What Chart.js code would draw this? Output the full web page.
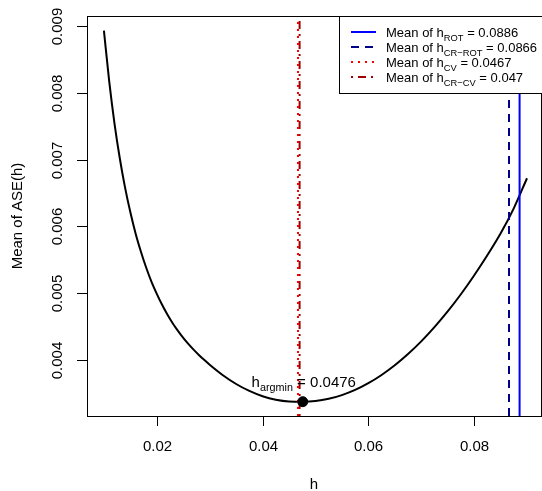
<!DOCTYPE html>
<html>
<head>
<meta charset="utf-8">
<script src="https://cdn.jsdelivr.net/npm/chart.js@4.4.0/dist/chart.umd.min.js"></script>
<style>
    html, body { margin: 0; padding: 0; overflow: hidden; background: #fff; }
    canvas { display: block; }
</style>
</head>
<body>
<canvas id="aseChart" width="542" height="491"></canvas>
<script>
// bandwidth grid and mean ASE
var hValues = [0.010, 0.011, 0.012, 0.013, 0.014, 0.015, 0.016, 0.017, 0.018, 0.019,
    0.020, 0.021, 0.022, 0.023, 0.024, 0.025, 0.026, 0.027, 0.028, 0.029,
    0.030, 0.0325, 0.035, 0.0375, 0.040, 0.0425, 0.045, 0.0476, 0.050, 0.0525,
    0.055, 0.0575, 0.060, 0.0625, 0.065, 0.0675, 0.070, 0.0725, 0.075, 0.0775,
    0.080, 0.0825, 0.085, 0.0875, 0.090];
var aseValues = [0.00893, 0.00817, 0.00754, 0.00702, 0.00658, 0.00621, 0.00589, 0.00562, 0.00538, 0.00517,
    0.00499, 0.004826, 0.00468, 0.00455, 0.004435, 0.00433, 0.004236, 0.00415, 0.004071, 0.003997,
    0.003927, 0.00377, 0.003639, 0.003535, 0.003456, 0.003404, 0.003378, 0.003374, 0.003384, 0.003417,
    0.003473, 0.00355, 0.003651, 0.003774, 0.003919, 0.004087, 0.004277, 0.00449, 0.004725, 0.004983,
    0.005264, 0.005566, 0.005892, 0.00627, 0.00672];

var hArgmin = 0.0476;
var aseMin = 0.003374;

// mean bandwidths of the selectors
var selectorNames = ['ROT', 'CR\u2212ROT', 'CV', 'CR\u2212CV'];
var selectorMeans = [0.0886, 0.0866, 0.0467, 0.047];
var selectorLabels = ['0.0886', '0.0866', '0.0467', '0.047'];
var selectorColors = ['#0000ff', '#00008b', '#ff0000', '#a00000'];
var selectorDashes = [[], [8, 6], [2, 5], [2, 5, 8, 5]];

var xTicks = [0.02, 0.04, 0.06, 0.08];
var yTicks = [0.004, 0.005, 0.006, 0.007, 0.008, 0.009];

var xMin = 0.0068, xMax = 0.09265;
var yMin = 0.00316, yMax = 0.00915;

var FONT = '"Liberation Sans", Arial, sans-serif';

function drawSubText(ctx, parts, x, y, size, align) {
    // parts: [text, isSub]
    var subSize = size * 0.72;
    var total = 0;
    parts.forEach(function (p) {
        ctx.font = (p[1] ? subSize : size) + 'px ' + FONT;
        total += ctx.measureText(p[0]).width;
    });
    var cx = align === 'center' ? x - total / 2 : x;
    ctx.textAlign = 'left';
    ctx.textBaseline = 'alphabetic';
    parts.forEach(function (p) {
        ctx.font = (p[1] ? subSize : size) + 'px ' + FONT;
        ctx.fillText(p[0], cx, p[1] ? y + size * 0.3 : y);
        cx += ctx.measureText(p[0]).width;
    });
}

var axesPlugin = {
    id: 'rAxes',
    afterDraw: function (chart) {
        var ctx = chart.ctx;
        var area = chart.chartArea;
        var xs = chart.scales.x, ys = chart.scales.y;
        ctx.save();
        ctx.strokeStyle = '#000';
        ctx.fillStyle = '#000';
        ctx.lineWidth = 1;
        ctx.strokeRect(Math.round(area.left) + 0.5, Math.round(area.top) + 0.5,
            Math.round(area.right - area.left), Math.round(area.bottom - area.top));

        // x axis
        ctx.font = '15px ' + FONT;
        ctx.textAlign = 'center';
        ctx.textBaseline = 'middle';
        xTicks.forEach(function (t) {
            var px = Math.round(xs.getPixelForValue(t)) + 0.5;
            ctx.beginPath();
            ctx.moveTo(px, area.bottom);
            ctx.lineTo(px, area.bottom + 10);
            ctx.stroke();
            ctx.fillText(String(t), px, area.bottom + 31);
        });
        ctx.fillText('h', (area.left + area.right) / 2, area.bottom + 69);

        // y axis
        yTicks.forEach(function (t) {
            var py = Math.round(ys.getPixelForValue(t)) + 0.5;
            ctx.beginPath();
            ctx.moveTo(area.left - 10, py);
            ctx.lineTo(area.left, py);
            ctx.stroke();
            ctx.save();
            ctx.translate(area.left - 29, py);
            ctx.rotate(-Math.PI / 2);
            ctx.fillText(String(t), 0, 0);
            ctx.restore();
        });
        ctx.save();
        ctx.translate(18, (area.top + area.bottom) / 2);
        ctx.rotate(-Math.PI / 2);
        ctx.fillText('Mean of ASE(h)', 0, 0);
        ctx.restore();

        // argmin label
        var mx = xs.getPixelForValue(hArgmin);
        var my = ys.getPixelForValue(aseMin);
        drawSubText(ctx, [['h', false], ['argmin', true], [' = 0.0476', false]], mx + 1, my - 15, 15, 'center');

        // legend
        var lx = 339, ly = area.top;
        ctx.fillStyle = '#fff';
        ctx.fillRect(lx, ly, area.right - lx + 2, 77);
        ctx.strokeStyle = '#000';
        ctx.strokeRect(lx + 0.5, ly + 0.5, area.right - lx + 2, 77);
        selectorNames.forEach(function (name, i) {
            var rowY = ly + 16 + i * 15;
            ctx.strokeStyle = selectorColors[i];
            ctx.lineWidth = 2;
            ctx.setLineDash(selectorDashes[i]);
            ctx.beginPath();
            ctx.moveTo(351, rowY);
            ctx.lineTo(376, rowY);
            ctx.stroke();
            ctx.setLineDash([]);
            ctx.fillStyle = '#000';
            drawSubText(ctx, [['Mean of h', false], [name, true], [' = ' + selectorLabels[i], false]],
                386, rowY + 5, 13, 'left');
        });
        ctx.restore();
    }
};

var datasets = [{
    label: 'argmin',
    data: [{ x: hArgmin, y: aseMin }],
    pointRadius: 5,
    pointBackgroundColor: '#000',
    pointBorderColor: '#000',
    order: 0
}];

selectorMeans.forEach(function (m, i) {
    datasets.push({
        label: selectorNames[i],
        data: [{ x: m, y: yMin }, { x: m, y: yMax }],
        showLine: true,
        borderColor: selectorColors[i],
        borderWidth: 2,
        borderDash: selectorDashes[i],
        pointRadius: 0,
        order: 1
    });
});

datasets.push({
    label: 'ASE',
    data: hValues.map(function (h, i) { return { x: h, y: aseValues[i] }; }),
    showLine: true,
    borderColor: '#000',
    borderWidth: 2,
    pointRadius: 0,
    cubicInterpolationMode: 'monotone',
    order: 2
});

var aseChart = new Chart(document.getElementById('aseChart'), {
    type: 'scatter',
    data: { datasets: datasets },
    options: {
        responsive: false,
        animation: false,
        events: [],
        layout: { autoPadding: false, padding: { left: 87, top: 16, right: 1, bottom: 75 } },
        plugins: { legend: { display: false }, tooltip: { enabled: false } },
        scales: {
            x: { type: 'linear', min: xMin, max: xMax, display: false },
            y: { type: 'linear', min: yMin, max: yMax, display: false }
        }
    },
    plugins: [axesPlugin]
});
</script>
</body>
</html>
